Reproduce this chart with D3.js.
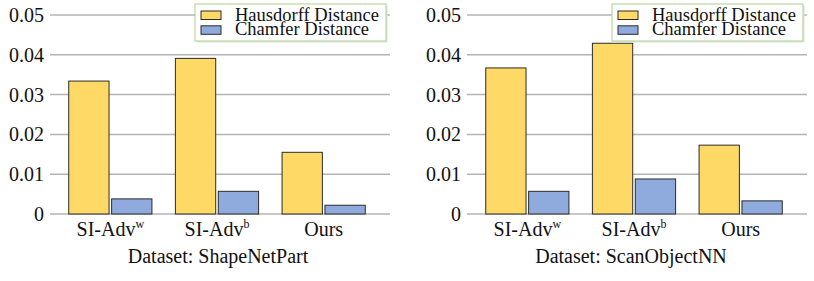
<!DOCTYPE html>
<html>
<head>
<meta charset="utf-8">
<script src="https://cdn.jsdelivr.net/npm/d3@7"></script>
<style>
  body { margin: 0; background: #fff; }
</style>
</head>
<body>
<div id="chart"></div>
<script>
// Data
const methods = ["SI-Adv", "SI-Adv", "Ours"];
const methodSup = ["w", "b", ""];
const seriesNames = ["Hausdorff Distance", "Chamfer Distance"];
const shapeNetHausdorff = [0.0334, 0.0391, 0.0155];
const shapeNetChamfer = [0.0038, 0.0057, 0.0022];
const scanObjHausdorff = [0.0367, 0.0429, 0.0173];
const scanObjChamfer = [0.0057, 0.0088, 0.0033];
const yTicks = [0, 0.01, 0.02, 0.03, 0.04, 0.05];
const yTickLabels = ["0", "0.01", "0.02", "0.03", "0.04", "0.05"];
const panelTitles = ["Dataset: ShapeNetPart", "Dataset: ScanObjectNN"];

const COLOURS = ["#ffd966", "#8faadc"];
const FONT = "Liberation Serif";
const width = 814;
const height = 281;

const svg = d3
  .select("#chart")
  .append("svg")
  .attr("width", width)
  .attr("height", height);

function drawPanel(offsetX, hausdorff, chamfer, title, titleX) {
  const g = svg.append("g").attr("transform", `translate(${offsetX}, 0)`);
  const gridLeft = 50;
  const gridRight = 390;

  const y = d3.scaleLinear().domain([0, 0.05]).range([214, 15]);

  const x0 = d3
    .scaleBand()
    .domain(d3.range(methods.length))
    .range([57, 377])
    .paddingInner(0.22)
    .paddingOuter(0.11);

  const x1 = d3
    .scaleBand()
    .domain(d3.range(seriesNames.length))
    .range([0, x0.bandwidth()])
    .paddingInner(0.06);

  // Gridlines
  g.append("g")
    .selectAll("line")
    .data(yTicks)
    .join("line")
    .attr("x1", gridLeft)
    .attr("x2", gridRight)
    .attr("y1", (d) => y(d))
    .attr("y2", (d) => y(d))
    .attr("stroke", "#b4b4b4")
    .attr("stroke-width", 1.5);

  // Y tick labels
  g.append("g")
    .selectAll("text")
    .data(yTicks)
    .join("text")
    .attr("x", 44)
    .attr("y", (d) => y(d) + 7)
    .attr("text-anchor", "end")
    .attr("fill", "#111")
    .attr("font-family", FONT)
    .attr("font-size", 20)
    .text((d, i) => yTickLabels[i]);

  // Bars
  const rows = methods.map((m, i) => [hausdorff[i], chamfer[i]]);
  g.append("g")
    .selectAll("g")
    .data(rows)
    .join("g")
    .attr("transform", (d, i) => `translate(${x0(i)}, 0)`)
    .selectAll("rect")
    .data((d) => d.map((v, j) => ({ v, j })))
    .join("rect")
    .attr("x", (d) => x1(d.j))
    .attr("y", (d) => y(d.v))
    .attr("width", x1.bandwidth())
    .attr("height", (d) => y(0) - y(d.v))
    .attr("fill", (d) => COLOURS[d.j])
    .attr("stroke", "#2b2b2b")
    .attr("stroke-width", 1);

  // X labels with superscripts
  const xl = g
    .append("g")
    .selectAll("text")
    .data(methods)
    .join("text")
    .attr("x", (d, i) => x0(i) + x0.bandwidth() / 2)
    .attr("y", 236)
    .attr("text-anchor", "middle")
    .attr("fill", "#111")
    .attr("font-family", FONT)
    .attr("font-size", 20);
  xl.append("tspan").text((d) => d);
  xl.append("tspan")
    .attr("dy", -8)
    .attr("font-size", 12)
    .text((d, i) => methodSup[i]);

  // Panel title
  g.append("text")
    .attr("x", titleX)
    .attr("y", 263)
    .attr("text-anchor", "middle")
    .attr("fill", "#111")
    .attr("font-family", FONT)
    .attr("font-size", 20)
    .text(title);

  // Legend
  const lg = g.append("g").attr("transform", "translate(195, 4)");
  lg.append("rect")
    .attr("x", 1.5)
    .attr("y", 1.5)
    .attr("width", 191)
    .attr("height", 37)
    .attr("fill", "#e4e4e4");
  lg.append("rect")
    .attr("width", 191)
    .attr("height", 37)
    .attr("fill", "#fff")
    .attr("stroke", "#a9d18e")
    .attr("stroke-width", 1);
  lg.selectAll(".item")
    .data(seriesNames)
    .join("g")
    .attr("class", "item")
    .attr("transform", (d, i) => `translate(6, ${7 + i * 14.8})`)
    .each(function (d, i) {
      const item = d3.select(this);
      item.append("rect")
        .attr("width", 20)
        .attr("height", 8.5)
        .attr("fill", COLOURS[i])
        .attr("stroke", "#2b2b2b")
        .attr("stroke-width", 1);
      item.append("text")
        .attr("x", 34)
        .attr("y", 9.5)
        .attr("fill", "#111")
        .attr("font-family", FONT)
        .attr("font-size", 18.5)
        .text(d);
    });
}

drawPanel(0, shapeNetHausdorff, shapeNetChamfer, panelTitles[0], 218);
drawPanel(417, scanObjHausdorff, scanObjChamfer, panelTitles[1], 214);
</script>
</body>
</html>
